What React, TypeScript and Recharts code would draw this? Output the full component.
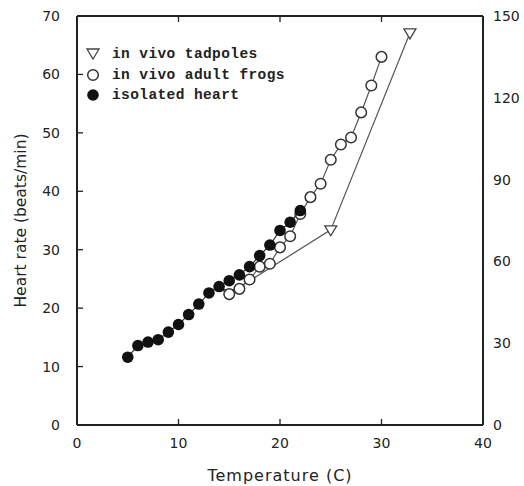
import { ScatterChart, Scatter, XAxis, YAxis, Legend } from "recharts";

// in vivo tadpoles
const tadpoleTemp = [15, 25, 32.8];
const tadpoleRate = [22.5, 33.4, 67.1];

// in vivo adult frogs
const frogTemp = [15, 16, 17, 18, 19, 20, 21, 22, 23, 24, 25, 26, 27, 28, 29, 30];
const frogRate = [22.4, 23.3, 24.9, 27.1, 27.6, 30.4, 32.3, 36.1, 39.0, 41.3, 45.4, 48.0, 49.2, 53.5, 58.1, 63.0];

// isolated heart
const heartTemp = [5, 6, 7, 8, 9, 10, 11, 12, 13, 14, 15, 16, 17, 18, 19, 20, 21, 22];
const heartRate = [11.6, 13.6, 14.2, 14.6, 15.9, 17.2, 18.9, 20.7, 22.6, 23.7, 24.7, 25.7, 27.1, 29.0, 30.8, 33.3, 34.7, 36.7];

const xTicks = [0, 10, 20, 30, 40];
const topTicks = [10, 20, 30];
const leftTicks = [0, 10, 20, 30, 40, 50, 60, 70];
const rightTicks = [0, 30, 60, 90, 120, 150];

const seriesNames = ["in vivo tadpoles", "in vivo adult frogs", "isolated heart"];

const INK = "#222";
const FONT = "'DejaVu Sans', sans-serif";

const toPoints = (xs: number[], ys: number[]) => xs.map((t, i) => ({ t, hr: ys[i] }));

const tadpoles = toPoints(tadpoleTemp, tadpoleRate);
const frogs = toPoints(frogTemp, frogRate);
const heart = toPoints(heartTemp, heartRate);

// eslint-disable-next-line @typescript-eslint/no-explicit-any
const Triangle = ({ cx, cy }: any) => (
  <path
    d={`M${cx - 6},${cy - 4} L${cx + 6},${cy - 4} L${cx},${cy + 6} Z`}
    fill="#fff"
    stroke="#444"
    strokeWidth={1.3}
  />
);

// eslint-disable-next-line @typescript-eslint/no-explicit-any
const OpenDot = ({ cx, cy }: any) => (
  <circle cx={cx} cy={cy} r={5.3} fill="#fff" stroke="#333" strokeWidth={1.5} />
);

// eslint-disable-next-line @typescript-eslint/no-explicit-any
const FilledDot = ({ cx, cy }: any) => <circle cx={cx} cy={cy} r={5.8} fill="#111" />;

// eslint-disable-next-line @typescript-eslint/no-explicit-any
const BottomTick = ({ x, y, payload }: any) => (
  <g>
    <line x1={x} y1={y} x2={x} y2={y - 6} stroke={INK} strokeWidth={1.3} />
    <text x={x} y={y + 18} textAnchor="middle" dominantBaseline="central" fill={INK} fontSize={14} fontFamily={FONT}>
      {payload.value}
    </text>
  </g>
);

// eslint-disable-next-line @typescript-eslint/no-explicit-any
const TopTick = ({ x, y }: any) => (
  <line x1={x} y1={y} x2={x} y2={y + 6} stroke={INK} strokeWidth={1.3} />
);

// eslint-disable-next-line @typescript-eslint/no-explicit-any
const LeftTick = ({ x, y, payload }: any) => (
  <g>
    <line x1={x} y1={y} x2={x + 6} y2={y} stroke={INK} strokeWidth={1.3} />
    <text x={x - 17} y={y} textAnchor="end" dominantBaseline="central" fill={INK} fontSize={14} fontFamily={FONT}>
      {payload.value}
    </text>
  </g>
);

// eslint-disable-next-line @typescript-eslint/no-explicit-any
const RightTick = ({ x, y, payload }: any) => (
  <text x={x + 10} y={y} textAnchor="start" dominantBaseline="central" fill={INK} fontSize={14} fontFamily={FONT}>
    {payload.value}
  </text>
);

// eslint-disable-next-line @typescript-eslint/no-explicit-any
const YTitle = ({ viewBox }: any) => {
  const cx = viewBox.x + 21;
  const cy = viewBox.y + viewBox.height / 2;
  return (
    <text
      x={cx}
      y={cy}
      transform={`rotate(-90 ${cx} ${cy})`}
      textAnchor="middle"
      dominantBaseline="central"
      fill={INK}
      fontSize={15.5}
      fontFamily={FONT}
    >
      Heart rate (beats/min)
    </text>
  );
};

// eslint-disable-next-line @typescript-eslint/no-explicit-any
const XTitle = ({ viewBox }: any) => {
  const cx = viewBox.x + viewBox.width / 2;
  const cy = viewBox.y + 50;
  return (
    <text
      x={cx}
      y={cy}
      textAnchor="middle"
      dominantBaseline="central"
      fill={INK}
      fontSize={16}
      letterSpacing={1}
      fontFamily={FONT}
    >
      Temperature (C)
    </text>
  );
};

const legendSymbol = (i: number) => {
  if (i === 0)
    return <path d="M2,3 L14,3 L8,13 Z" fill="#fff" stroke="#444" strokeWidth={1.3} />;
  if (i === 1) return <circle cx={8} cy={8} r={5.3} fill="#fff" stroke="#333" strokeWidth={1.5} />;
  return <circle cx={8} cy={8} r={5.8} fill="#111" />;
};

const LegendContent = () => (
  <div>
    {seriesNames.map((name, i) => (
      <div key={name} style={{ display: "flex", alignItems: "center", height: 20.5 }}>
        <svg width={16} height={16} style={{ marginRight: 11 }}>
          {legendSymbol(i)}
        </svg>
        <span
          style={{
            fontFamily: "'Liberation Mono', monospace",
            fontSize: 14.5,
            fontWeight: "bold",
            letterSpacing: 0.4,
            color: "#222",
          }}
        >
          {name}
        </span>
      </div>
    ))}
  </div>
);

export default function App() {
  return (
    <div style={{ position: "absolute", left: 0, top: 0, width: 524, height: 486, background: "#fff" }}>
      <ScatterChart width={524} height={486} margin={{ top: 0, right: 0, bottom: 0, left: 0 }}>
        <XAxis
          xAxisId="bottom"
          dataKey="t"
          type="number"
          domain={[0, 40]}
          ticks={xTicks}
          allowDataOverflow
          height={61}
          axisLine={{ stroke: INK, strokeWidth: 2 }}
          tickLine={false}
          tickSize={0}
          tickMargin={0}
          tick={<BottomTick />}
          interval={0}
          label={<XTitle />}
        />
        <XAxis
          xAxisId="top"
          orientation="top"
          dataKey="t"
          type="number"
          domain={[0, 40]}
          ticks={topTicks}
          allowDataOverflow
          height={16}
          axisLine={{ stroke: INK, strokeWidth: 2 }}
          tickLine={false}
          tickSize={0}
          tickMargin={0}
          tick={<TopTick />}
          interval={0}
        />
        <YAxis
          yAxisId="left"
          dataKey="hr"
          type="number"
          domain={[0, 70]}
          ticks={leftTicks}
          allowDataOverflow
          width={77}
          axisLine={{ stroke: INK, strokeWidth: 2 }}
          tickLine={false}
          tickSize={0}
          tickMargin={0}
          tick={<LeftTick />}
          interval={0}
          label={<YTitle />}
        />
        <YAxis
          yAxisId="right"
          orientation="right"
          type="number"
          domain={[0, 150]}
          ticks={rightTicks}
          allowDataOverflow
          width={41}
          axisLine={{ stroke: INK, strokeWidth: 2 }}
          tickLine={false}
          tickSize={0}
          tickMargin={0}
          tick={<RightTick />}
          interval={0}
        />
        <Legend
          layout="vertical"
          align="center"
          verticalAlign="middle"
          width={240}
          wrapperStyle={{ left: 85, top: 44 }}
          content={<LegendContent />}
        />
        <Scatter
          name={seriesNames[0]}
          data={tadpoles}
          xAxisId="bottom"
          yAxisId="left"
          line={{ stroke: "#555", strokeWidth: 1.2 }}
          shape={<Triangle />}
          isAnimationActive={false}
        />
        <Scatter
          name={seriesNames[1]}
          data={frogs}
          xAxisId="bottom"
          yAxisId="left"
          line={{ stroke: "#555", strokeWidth: 1.2 }}
          shape={<OpenDot />}
          isAnimationActive={false}
        />
        <Scatter
          name={seriesNames[2]}
          data={heart}
          xAxisId="bottom"
          yAxisId="left"
          line={{ stroke: "#333", strokeWidth: 1.2 }}
          shape={<FilledDot />}
          isAnimationActive={false}
        />
      </ScatterChart>
    </div>
  );
}
